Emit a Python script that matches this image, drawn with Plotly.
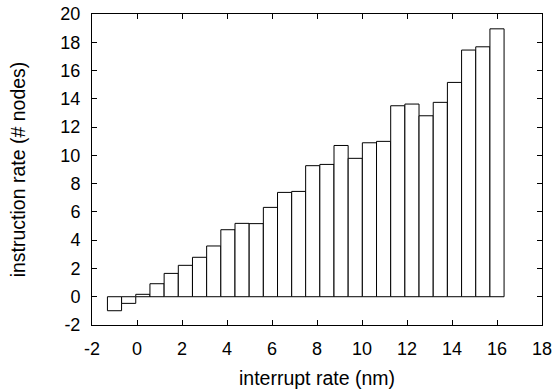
import plotly.graph_objects as go

x_pos = [-1.0, -0.37, 0.26, 0.89, 1.52, 2.15, 2.78, 3.41, 4.04, 4.67, 5.30, 5.93,
         6.56, 7.19, 7.81, 8.44, 9.07, 9.70, 10.33, 10.96, 11.59, 12.22, 12.85,
         13.48, 14.11, 14.74, 15.37, 16.0]
heights = [-0.99, -0.47, 0.17, 0.92, 1.65, 2.22, 2.79, 3.59, 4.74, 5.19, 5.17, 6.32,
           7.38, 7.45, 9.27, 9.36, 10.70, 9.79, 10.89, 10.99, 13.51, 13.63, 12.80,
           13.75, 15.16, 17.45, 17.68, 18.95]
x_ticks = [-2, 0, 2, 4, 6, 8, 10, 12, 14, 16, 18]
y_ticks = [-2, 0, 2, 4, 6, 8, 10, 12, 14, 16, 18, 20]

fig = go.Figure(go.Bar(
    x=x_pos, y=heights, width=0.6286,
    marker=dict(color="white", line=dict(color="black", width=1)),
))

tick_font = dict(family="Liberation Sans, Arial, sans-serif", size=18, color="black")
title_font = dict(family="Liberation Sans, Arial, sans-serif", size=19.5, color="black")
axis_common = dict(showline=True, linecolor="black", linewidth=1, mirror="allticks",
                   ticks="inside", ticklen=5, tickcolor="black", showgrid=False,
                   zeroline=False, tickfont=tick_font, automargin=False,
                   ticklabeloverflow="allow")
fig.update_layout(
    template="none",
    autosize=False,
    width=554, height=392,
    margin=dict(l=92, r=12, t=14, b=67, pad=0),
    plot_bgcolor="white", paper_bgcolor="white",
    showlegend=False, font=tick_font,
    xaxis=dict(range=[-2, 18], tickvals=x_ticks, ticktext=[str(v) for v in x_ticks],
               ticklabelstandoff=7,
               title=dict(text="interrupt rate (nm)", font=title_font, standoff=13), **axis_common),
    yaxis=dict(range=[-2, 20], tickvals=y_ticks, ticktext=[str(v) for v in y_ticks],
               ticklabelstandoff=7,
               title=dict(text="instruction rate (# nodes)", font=title_font, standoff=29), **axis_common),
)
fig.write_html("out.html",
               config={"displayModeBar": False, "staticPlot": True},
               post_script="document.body.style.margin='0';document.body.style.overflow='hidden';")
